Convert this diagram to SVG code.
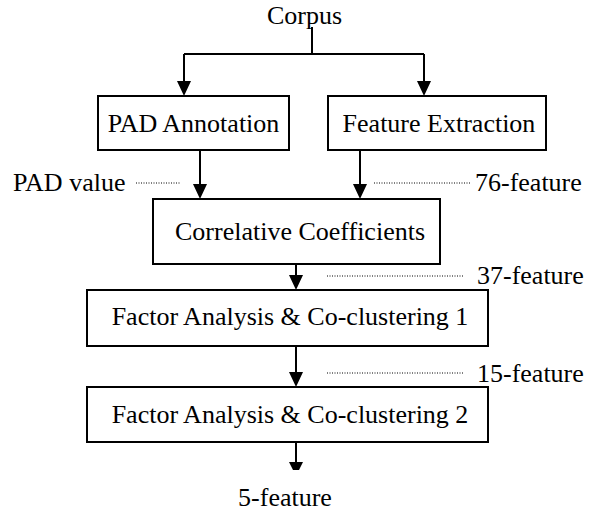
<svg xmlns="http://www.w3.org/2000/svg" width="602" height="513" viewBox="0 0 602 513">
<style>
text{font-family:'Liberation Serif','DejaVu Serif','Noto Serif',serif;font-size:26px;fill:#000}
.box{fill:#fff;stroke:#000;stroke-width:2}
.ln{fill:none;stroke:#000;stroke-width:2}
.dot{fill:none;stroke:#000;stroke-width:1;stroke-dasharray:1 1.5}
</style>
<rect width="602" height="513" fill="#fff"/>
<g id="connectors">
<path class="ln" d="M312,27 V54"/>
<path class="ln" d="M184,54 H424"/>
<path class="ln" d="M184,54 V82"/>
<path class="ln" d="M424,54 V82"/>
<polygon points="177,81 191,81 184,96"/>
<polygon points="417,81 431,81 424,96"/>
<path class="ln" d="M200,150 V185"/>
<path class="ln" d="M360,150 V185"/>
<polygon points="193,184 207,184 200,199"/>
<polygon points="353,184 367,184 360,199"/>
<path class="ln" d="M296,264 V276"/>
<polygon points="289,275 303,275 296,290"/>
<path class="ln" d="M296,346 V373"/>
<polygon points="289,372 303,372 296,387"/>
<path class="ln" d="M296,442 V463"/>
<polygon points="289,462 303,462 299,470 293,470"/>
<path class="dot" d="M136,183 H180"/>
<path class="dot" d="M374,183 H470"/>
<path class="dot" d="M327,276 H463"/>
<path class="dot" d="M327,373 H463"/>
</g>
<g id="corpus"><text x="304.5" y="23.5" text-anchor="middle">Corpus</text></g>
<g id="pad-annotation"><rect class="box" x="98" y="96" width="191" height="54"/><text x="193.5" y="132" text-anchor="middle">PAD Annotation</text></g>
<g id="feature-extraction"><rect class="box" x="328" y="96" width="218" height="54"/><text x="439" y="132" text-anchor="middle">Feature Extraction</text></g>
<g id="correlative"><rect class="box" x="153" y="199" width="287" height="65"/><text x="300" y="240" text-anchor="middle">Correlative Coefficients</text></g>
<g id="fa1"><rect class="box" x="87" y="290" width="401" height="56"/><text x="290" y="325" text-anchor="middle">Factor Analysis &amp; Co-clustering 1</text></g>
<g id="fa2"><rect class="box" x="87" y="387" width="401" height="55"/><text x="290" y="423" text-anchor="middle">Factor Analysis &amp; Co-clustering 2</text></g>
<g id="labels">
<text x="13" y="191">PAD value</text>
<text x="475" y="191">76-feature</text>
<text x="477" y="284">37-feature</text>
<text x="477" y="382">15-feature</text>
<text x="285" y="506" text-anchor="middle">5-feature</text>
</g>
</svg>
